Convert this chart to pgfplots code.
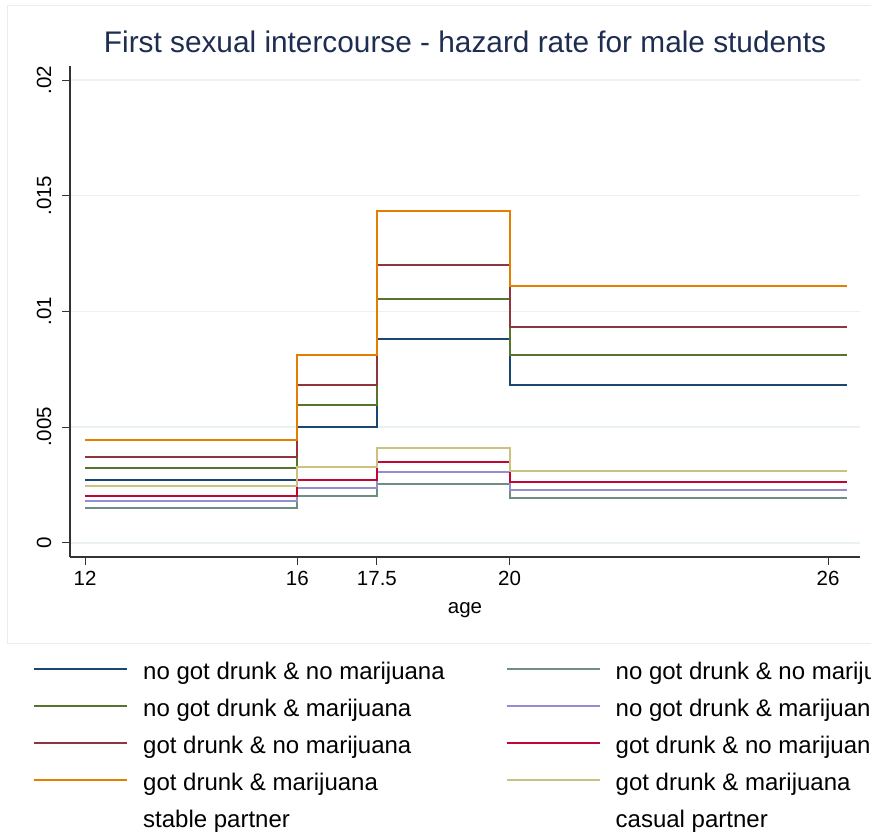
\documentclass[border=0pt]{standalone}
\usepackage{fontspec}
\setmainfont{Liberation Sans}
\usepackage{pgfplots}
\pgfplotsset{compat=1.18}

% Stata s2color palette
\definecolor{stnavy}{RGB}{26,71,111}
\definecolor{stgreen}{RGB}{85,117,47}
\definecolor{stmaroon}{RGB}{144,53,59}
\definecolor{storange}{RGB}{227,126,0}
\definecolor{stteal}{RGB}{110,142,132}
\definecolor{stlavender}{RGB}{147,141,210}
\definecolor{stcranberry}{RGB}{193,5,52}
\definecolor{stkhaki}{RGB}{202,194,126}
\definecolor{titleblue}{RGB}{30,45,82}
\definecolor{gridblue}{RGB}{234,241,243}
\definecolor{framegray}{RGB}{232,237,239}

\begin{document}
\begin{tikzpicture}[x=1pt,y=1pt]
\path[use as bounding box] (0,0) rectangle (871,-835);
\clip (0,0) rectangle (871,-835);
\draw[framegray, line width=1pt] (7,-5) rectangle (900,-643);
\begin{axis}[
  at={(70pt,-557pt)}, anchor=south west,
  scale only axis, width=790pt, height=491pt,
  xmin=11.717, xmax=26.603, ymin=-0.000618, ymax=0.020605,
  axis x line*=bottom, axis y line*=left,
  axis line style={black!80, line width=1.2pt},
  tick style={black!80, line width=1pt},
  tick align=outside, major tick length=8pt,
  xtick={12,16,17.5,20,26},
  ytick={0,0.005,0.01,0.015,0.02},
  yticklabels={0,.005,.01,.015,.02},
  scaled y ticks=false,
  /pgf/number format/assume math mode=true,
  ticklabel style={font=\fontsize{20.5}{24}\selectfont},
  xticklabel style={yshift=-3pt},
  yticklabel style={rotate=90, anchor=south, inner sep=10.5pt},
  ymajorgrids,
  grid style={gridblue, line width=1.6pt},
  xlabel={age},
  xlabel style={font=\fontsize{20.5}{24}\selectfont,
    at={(axis description cs:0.5,0)}, anchor=base, yshift=-56pt},
  title={First sexual intercourse - hazard rate for male students},
  title style={font=\fontsize{29.8}{34}\selectfont, color=titleblue,
    at={(axis description cs:0.5,1)}, anchor=base, yshift=8pt},
  every axis plot/.append style={line width=2pt, const plot mark left},
  legend image code/.code={\draw[#1, line width=2pt] (0pt,0.4em) -- (93pt,0.4em);},
  legend style={
    at={(axis description cs:-0.04684,-0.2118)}, anchor=north west,
    draw=none, fill=none, inner sep=0pt,
    font=\fontsize{24}{28}\selectfont,
    legend columns=2, legend cell align=left,
    nodes={inner sep=0pt, text height=18pt, text depth=5pt},
    row sep=14pt,
    /tikz/column sep=15pt,
    /tikz/every even column/.append style={column sep=61pt},
  },
]
% stable partner
\addplot[stnavy, forget plot]     coordinates {(12,0.00272)(16,0.00500)(17.5,0.00880)(20,0.00681)(26.35,0.00681)};
\addplot[stgreen, forget plot]    coordinates {(12,0.00324)(16,0.00595)(17.5,0.01053)(20,0.00813)(26.35,0.00813)};
\addplot[stmaroon, forget plot]   coordinates {(12,0.00371)(16,0.00681)(17.5,0.01202)(20,0.00932)(26.35,0.00932)};
\addplot[storange, forget plot]   coordinates {(12,0.00442)(16,0.00813)(17.5,0.01435)(20,0.01111)(26.35,0.01111)};
% casual partner
\addplot[stteal, forget plot]      coordinates {(12,0.00151)(16,0.00200)(17.5,0.00252)(20,0.00193)(26.35,0.00193)};
\addplot[stlavender, forget plot]  coordinates {(12,0.00180)(16,0.00238)(17.5,0.00304)(20,0.00229)(26.35,0.00229)};
\addplot[stcranberry, forget plot] coordinates {(12,0.00204)(16,0.00272)(17.5,0.00347)(20,0.00262)(26.35,0.00262)};
\addplot[stkhaki, forget plot]     coordinates {(12,0.00243)(16,0.00327)(17.5,0.00409)(20,0.00312)(26.35,0.00312)};

\addlegendimage{stnavy}      \addlegendentry{no got drunk \& no marijuana}
\addlegendimage{stteal}      \addlegendentry{no got drunk \& no marijuana}
\addlegendimage{stgreen}     \addlegendentry{no got drunk \& marijuana}
\addlegendimage{stlavender}  \addlegendentry{no got drunk \& marijuana}
\addlegendimage{stmaroon}    \addlegendentry{got drunk \& no marijuana}
\addlegendimage{stcranberry} \addlegendentry{got drunk \& no marijuana}
\addlegendimage{storange}    \addlegendentry{got drunk \& marijuana}
\addlegendimage{stkhaki}     \addlegendentry{got drunk \& marijuana}
\addlegendimage{empty legend}\addlegendentry{stable partner}
\addlegendimage{empty legend}\addlegendentry{casual partner}
\end{axis}
\end{tikzpicture}
\end{document}
